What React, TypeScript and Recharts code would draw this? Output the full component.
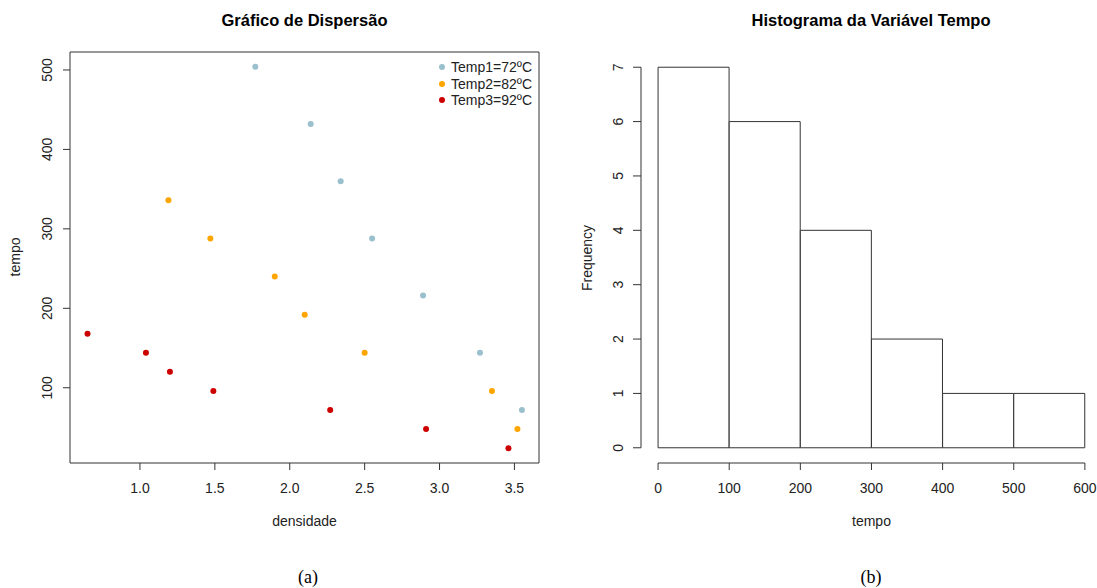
import {
  ScatterChart,
  Scatter,
  BarChart,
  Bar,
  XAxis,
  YAxis,
  ReferenceArea,
  ReferenceLine,
} from "recharts";

// densidade x tempo, one pair of arrays per temperature level
const temp1Densidade = [1.77, 2.14, 2.34, 2.55, 2.89, 3.27, 3.55];
const temp1Tempo = [504, 432, 360, 288, 216, 144, 72];
const temp2Densidade = [1.19, 1.47, 1.9, 2.1, 2.5, 3.35, 3.52];
const temp2Tempo = [336, 288, 240, 192, 144, 96, 48];
const temp3Densidade = [0.65, 1.04, 1.2, 1.49, 2.27, 2.91, 3.46];
const temp3Tempo = [168, 144, 120, 96, 72, 48, 24];

const seriesNames = ["Temp1=72ºC", "Temp2=82ºC", "Temp3=92ºC"];
const seriesColors = ["#9AC0CD", "#FFA500", "#CD0000"];

const scatterXTicks = [1.0, 1.5, 2.0, 2.5, 3.0, 3.5];
const scatterYTicks = [100, 200, 300, 400, 500];
// R-style limits: data range padded by 4% on each side
const scatterXDomain: [number, number] = [0.533, 3.664];
const scatterYDomain: [number, number] = [5.3, 522.6];

// histogram of tempo
const binStarts = [0, 100, 200, 300, 400, 500];
const binWidth = 100;
const binCounts = [7, 6, 4, 2, 1, 1];
const histXTicks = [0, 100, 200, 300, 400, 500, 600];
const histYTicks = [0, 1, 2, 3, 4, 5, 6, 7];
const histXDomain: [number, number] = [-24, 610];
const histYDomain: [number, number] = [-0.28, 7.28];

const FONT = '"Liberation Sans", Arial, sans-serif';
const INK = "#222";
const LINE = "#333";

const toPoints = (xs: number[], ys: number[]) => xs.map((x, i) => ({ densidade: x, tempo: ys[i] }));
const scatterSeries = [
  toPoints(temp1Densidade, temp1Tempo),
  toPoints(temp2Densidade, temp2Tempo),
  toPoints(temp3Densidade, temp3Tempo),
];

const histData = binStarts.map((s, i) => ({ mid: s + binWidth / 2, count: binCounts[i] }));

const RotatedTick = (props: any) => {
  const { x, y, payload } = props;
  return (
    <text
      x={x}
      y={y}
      transform={`rotate(-90 ${x} ${y})`}
      textAnchor="middle"
      fill={INK}
      fontSize={14}
      fontFamily={FONT}
    >
      {payload.value}
    </text>
  );
};

const Dot = (color: string) => (props: any) => <circle cx={props.cx} cy={props.cy} r={3} fill={color} />;

const abs = (style: React.CSSProperties): React.CSSProperties => ({ position: "absolute", ...style });

export default function App() {
  return (
    <div style={abs({ left: 0, top: 0, width: 1097, height: 588, background: "#fff", fontFamily: FONT, color: INK })}>
      {/* scatter panel */}
      <div style={abs({ left: 0, top: 0 })}>
        <ScatterChart width={560} height={588} margin={{ top: 52, right: 21, bottom: 85, left: 0 }}>
          <XAxis
            type="number"
            dataKey="densidade"
            domain={scatterXDomain}
            allowDataOverflow
            ticks={scatterXTicks}
            tickFormatter={(v: number) => v.toFixed(1)}
            axisLine={false}
            tickLine={{ stroke: LINE }}
            tickSize={7}
            tickMargin={13}
            height={40}
            tick={{ fill: INK, fontSize: 14, fontFamily: FONT }}
          />
          <YAxis
            type="number"
            dataKey="tempo"
            domain={scatterYDomain}
            allowDataOverflow
            ticks={scatterYTicks}
            axisLine={false}
            tickLine={{ stroke: LINE }}
            tickSize={7}
            tickMargin={11}
            width={70}
            tick={<RotatedTick />}
          />
          <ReferenceArea
            x1={scatterXDomain[0]}
            x2={scatterXDomain[1]}
            y1={scatterYDomain[0]}
            y2={scatterYDomain[1]}
            fill="none"
            stroke={LINE}
            strokeWidth={1}
            ifOverflow="visible"
          />
          {scatterSeries.map((pts, i) => (
            <Scatter
              key={seriesNames[i]}
              name={seriesNames[i]}
              data={pts}
              fill={seriesColors[i]}
              shape={Dot(seriesColors[i])}
              isAnimationActive={false}
            />
          ))}
        </ScatterChart>
      </div>

      {/* histogram panel */}
      <div style={abs({ left: 560, top: 0 })}>
        <BarChart
          width={537}
          height={588}
          data={histData}
          barCategoryGap={0}
          barGap={0}
          margin={{ top: 52, right: 5, bottom: 85, left: 0 }}
        >
          <XAxis
            type="number"
            dataKey="mid"
            domain={histXDomain}
            allowDataOverflow
            ticks={histXTicks}
            axisLine={false}
            tickLine={{ stroke: LINE }}
            tickSize={7}
            tickMargin={13}
            height={40}
            tick={{ fill: INK, fontSize: 14, fontFamily: FONT }}
          />
          <YAxis
            type="number"
            domain={histYDomain}
            allowDataOverflow
            ticks={histYTicks}
            axisLine={false}
            tickLine={{ stroke: LINE }}
            tickSize={8}
            tickMargin={10}
            width={81}
            tick={<RotatedTick />}
          />
          <Bar dataKey="count" fill="#fff" stroke={LINE} strokeWidth={1} isAnimationActive={false} />
          <ReferenceLine
            segment={[
              { x: histXTicks[0], y: histYDomain[0] },
              { x: histXTicks[histXTicks.length - 1], y: histYDomain[0] },
            ]}
            stroke={LINE}
            ifOverflow="visible"
          />
          <ReferenceLine
            segment={[
              { x: histXDomain[0], y: histYTicks[0] },
              { x: histXDomain[0], y: histYTicks[histYTicks.length - 1] },
            ]}
            stroke={LINE}
            ifOverflow="visible"
          />
        </BarChart>
      </div>

      {/* legend */}
      <div style={abs({ left: 436, top: 59 })}>
        {seriesNames.map((name, i) => (
          <div key={name} style={{ display: "flex", alignItems: "center", height: 16.5, fontSize: 14 }}>
            <span
              style={{ width: 6, height: 6, borderRadius: 3, background: seriesColors[i], marginLeft: 3, marginRight: 6 }}
            />
            <span>{name}</span>
          </div>
        ))}
      </div>

      {/* titles and axis captions */}
      <div style={abs({ left: 70, width: 469, top: 10, lineHeight: "20px", fontSize: 16.5, fontWeight: "bold", textAlign: "center", color: "#000" })}>
        Gráfico de Dispersão
      </div>
      <div style={abs({ left: 641, width: 460, top: 10, lineHeight: "20px", fontSize: 16.5, fontWeight: "bold", textAlign: "center", color: "#000" })}>
        Histograma da Variável Tempo
      </div>
      <div style={abs({ left: 70, width: 469, top: 512, lineHeight: "18px", fontSize: 14, textAlign: "center" })}>densidade</div>
      <div style={abs({ left: 658, width: 427, top: 512, lineHeight: "18px", fontSize: 14, textAlign: "center" })}>tempo</div>
      <div style={abs({ left: 15, top: 257, fontSize: 14, lineHeight: "16px", transform: "translate(-50%, -50%) rotate(-90deg)" })}>
        tempo
      </div>
      <div style={abs({ left: 587, top: 258, fontSize: 14, lineHeight: "16px", transform: "translate(-50%, -50%) rotate(-90deg)", whiteSpace: "nowrap" })}>
        Frequency
      </div>
      <div style={abs({ left: 258, width: 100, top: 566, lineHeight: "22px", fontSize: 18, textAlign: "center", fontFamily: '"Liberation Serif", serif', color: "#000" })}>
        (a)
      </div>
      <div style={abs({ left: 821, width: 100, top: 566, lineHeight: "22px", fontSize: 18, textAlign: "center", fontFamily: '"Liberation Serif", serif', color: "#000" })}>
        (b)
      </div>
    </div>
  );
}
